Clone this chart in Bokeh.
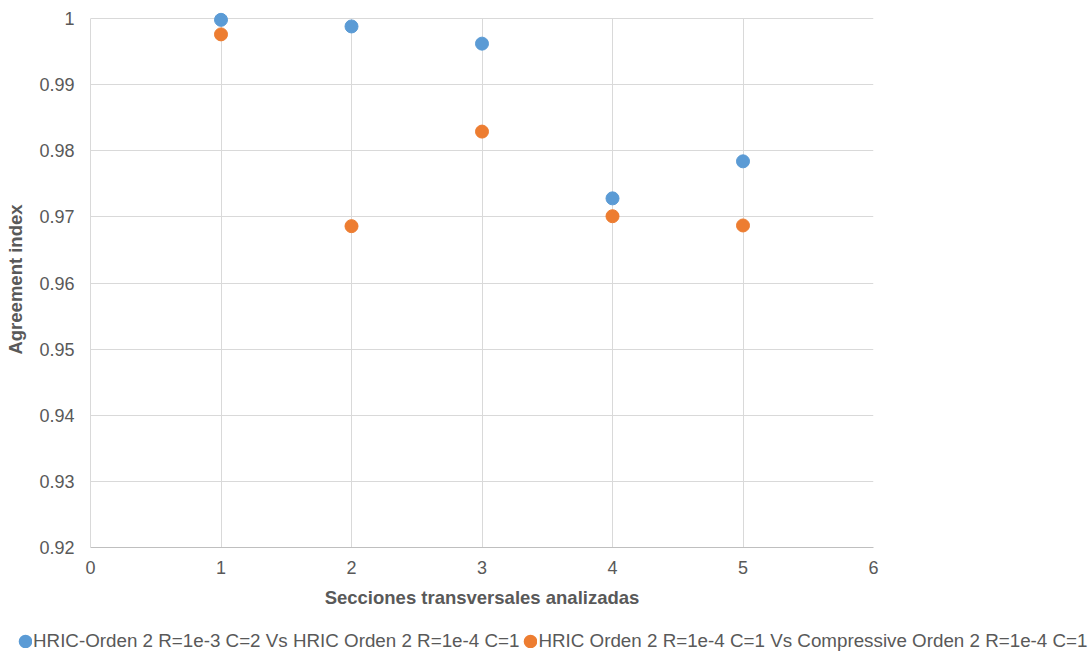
from bokeh.plotting import figure
from bokeh.models import ColumnDataSource, Legend, LegendItem, CustomJSTickFormatter, FixedTicker, Range1d
from bokeh.embed import file_html
from bokeh.resources import INLINE

secciones = [1, 2, 3, 4, 5]
serie_a = [0.9998, 0.9988, 0.9962, 0.9728, 0.9784]
serie_b = [0.9976, 0.9686, 0.9829, 0.9701, 0.9687]
nombre_a = "HRIC-Orden 2 R=1e-3 C=2 Vs HRIC Orden 2 R=1e-4 C=1"
nombre_b = "HRIC Orden 2 R=1e-4 C=1 Vs Compressive Orden 2 R=1e-4 C=1"
x_ticks = [0, 1, 2, 3, 4, 5, 6]
y_ticks = [0.92, 0.93, 0.94, 0.95, 0.96, 0.97, 0.98, 0.99, 1.0]
color_a = "#5B9BD5"
color_b = "#ED7D31"

FONT = "Liberation Sans"
Y_MIN, Y_MAX = 0.92, 1.0
Y_PAD = 0.00106  # headroom so the top marker is not cut by the frame

p = figure(width=1089, height=620, output_backend="svg", toolbar_location=None,
           x_range=Range1d(0, 6), y_range=Range1d(Y_MIN, Y_MAX + Y_PAD),
           min_border_left=90, min_border_right=216, min_border_top=11, min_border_bottom=73)
p.outline_line_color = None
p.background_fill_color = "white"
p.border_fill_color = "white"

src_a = ColumnDataSource(dict(x=secciones, y=serie_a))
src_b = ColumnDataSource(dict(x=secciones, y=serie_b))
p.scatter("x", "y", source=src_a, size=13, color=color_a)
p.scatter("x", "y", source=src_b, size=13, color=color_b)

p.xaxis.ticker = FixedTicker(ticks=x_ticks)
p.yaxis.ticker = FixedTicker(ticks=y_ticks)
p.yaxis.formatter = CustomJSTickFormatter(code="return String(Math.round(tick*100)/100);")
p.yaxis.bounds = (Y_MIN, Y_MAX)

for ax in (p.xaxis[0], p.yaxis[0]):
    ax.major_tick_out = 0
    ax.major_tick_in = 0
    ax.minor_tick_out = 0
    ax.minor_tick_in = 0
    ax.major_label_text_font = FONT
    ax.major_label_text_font_size = "18px"
    ax.major_label_text_color = "#595959"
    ax.axis_label_text_font = FONT
    ax.axis_label_text_font_size = "18.5px"
    ax.axis_label_text_font_style = "bold"
    ax.axis_label_text_color = "#595959"

p.xaxis.axis_line_color = "#BFBFBF"
p.yaxis.axis_line_color = "#D9D9D9"
p.xaxis.major_label_standoff = 13
p.yaxis.major_label_standoff = 16
p.xaxis.axis_label = "Secciones transversales analizadas"
p.yaxis.axis_label = "Agreement index"
p.xaxis.axis_label_standoff = 10
p.yaxis.axis_label_standoff = 10

p.xgrid.grid_line_color = "#D9D9D9"
p.ygrid.grid_line_color = "#D9D9D9"
try:
    p.xgrid[0].cross_bounds = (Y_MIN, Y_MAX)
except Exception:
    pass

# legend strip below the chart (series kept outside its view range)
q = figure(width=1089, height=34, output_backend="svg", toolbar_location=None,
           x_range=Range1d(10, 11), y_range=Range1d(10, 11),
           x_axis_type=None, y_axis_type=None,
           min_border_left=0, min_border_right=0, min_border_top=0, min_border_bottom=0)
q.outline_line_color = None
q.xgrid.visible = False
q.ygrid.visible = False
la = q.scatter("x", "y", source=src_a, size=13, color=color_a, line_width=8)
lb = q.scatter("x", "y", source=src_b, size=13, color=color_b, line_width=8)

legend = Legend(items=[LegendItem(label=nombre_a, renderers=[la]),
                       LegendItem(label=nombre_b, renderers=[lb])],
                orientation="horizontal", location=(18, 2),
                label_text_font=FONT, label_text_font_size="18.8px", label_text_color="#595959",
                glyph_width=14, glyph_height=14, label_standoff=1, spacing=4, padding=0,
                border_line_color=None, background_fill_alpha=0, margin=0)
q.add_layout(legend, "center")

open("out.html", "w").write(file_html([p, q], INLINE))
